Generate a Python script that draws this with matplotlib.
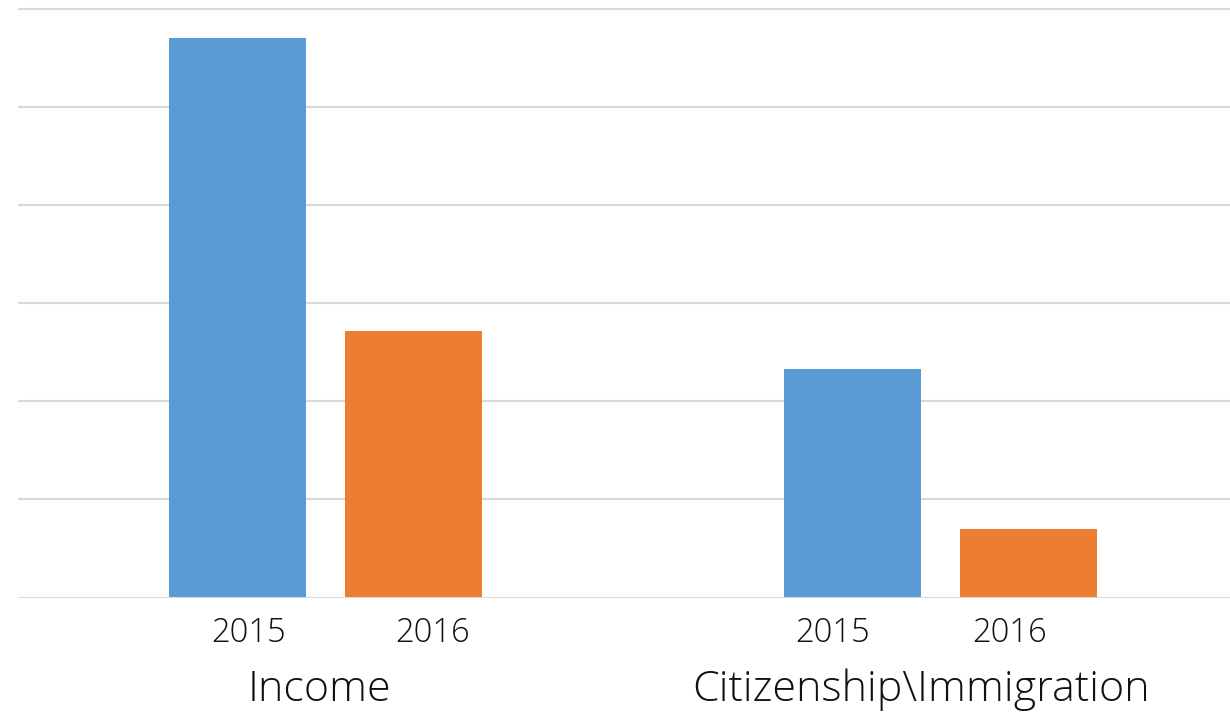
import numpy as np
import matplotlib.pyplot as plt
from matplotlib.transforms import blended_transform_factory

# data (gridline spacing = 1 unit, no axis labels shown)
categories = ["Income", "Citizenship\\Immigration"]
years = ["2015", "2016"]
values_2015 = [5.70, 2.33]
values_2016 = [2.72, 0.70]
colors = ["#5B9BD5", "#ED7D31"]

FONT = "Open Sans"

W, H = 1230, 715
fig = plt.figure(figsize=(W / 100, H / 100), dpi=100)
# axes: left edge at 18px, baseline at 597.5px, runs past the right edge
ax = fig.add_axes([18 / W, (H - 597.5) / H, 1230 / W, 597.5 / H])

x = np.arange(len(categories))
width = 0.223
offset = 0.143

for i, vals in enumerate([values_2015, values_2016]):
    ax.bar(x + (i * 2 - 1) * offset, vals, width, color=colors[i], zorder=3)

ax.set_xlim(-0.5, 1.5)
ax.set_ylim(0, 597.5 / ((597.5 - 9) / 6))
ax.set_yticks(np.arange(0, 7))
ax.yaxis.grid(True, color="#D9D9D9", linewidth=1.5, zorder=0)
ax.set_yticklabels([])
ax.tick_params(axis="y", length=0)

ax.axhline(0, color="#D9D9D9", linewidth=2.2, zorder=4)

for s in ax.spines.values():
    s.set_visible(False)

# year labels under each bar (Excel nudges them a little off the bar centres)
label_shift = [0.018, 0.031, -0.032, -0.031]
ticks = np.sort(np.concatenate([x - offset, x + offset])) + np.array(label_shift)
ax.set_xticks(ticks)
ax.set_xticklabels(years * len(categories), fontsize=23.5, fontfamily=FONT,
                   fontweight="light", color="#111111")
ax.tick_params(axis="x", length=0, pad=14)

trans = blended_transform_factory(ax.transData, fig.transFigure)
cat_shift = [-0.01, -0.032]
for xi, cat, sh in zip(x, categories, cat_shift):
    ax.text(xi + sh, 1 - 690 / H, cat, transform=trans, ha="center",
            va="center", fontsize=31, fontfamily=FONT, fontweight="light",
            color="#111111", clip_on=False)

fig.savefig("out.png", dpi=100)
